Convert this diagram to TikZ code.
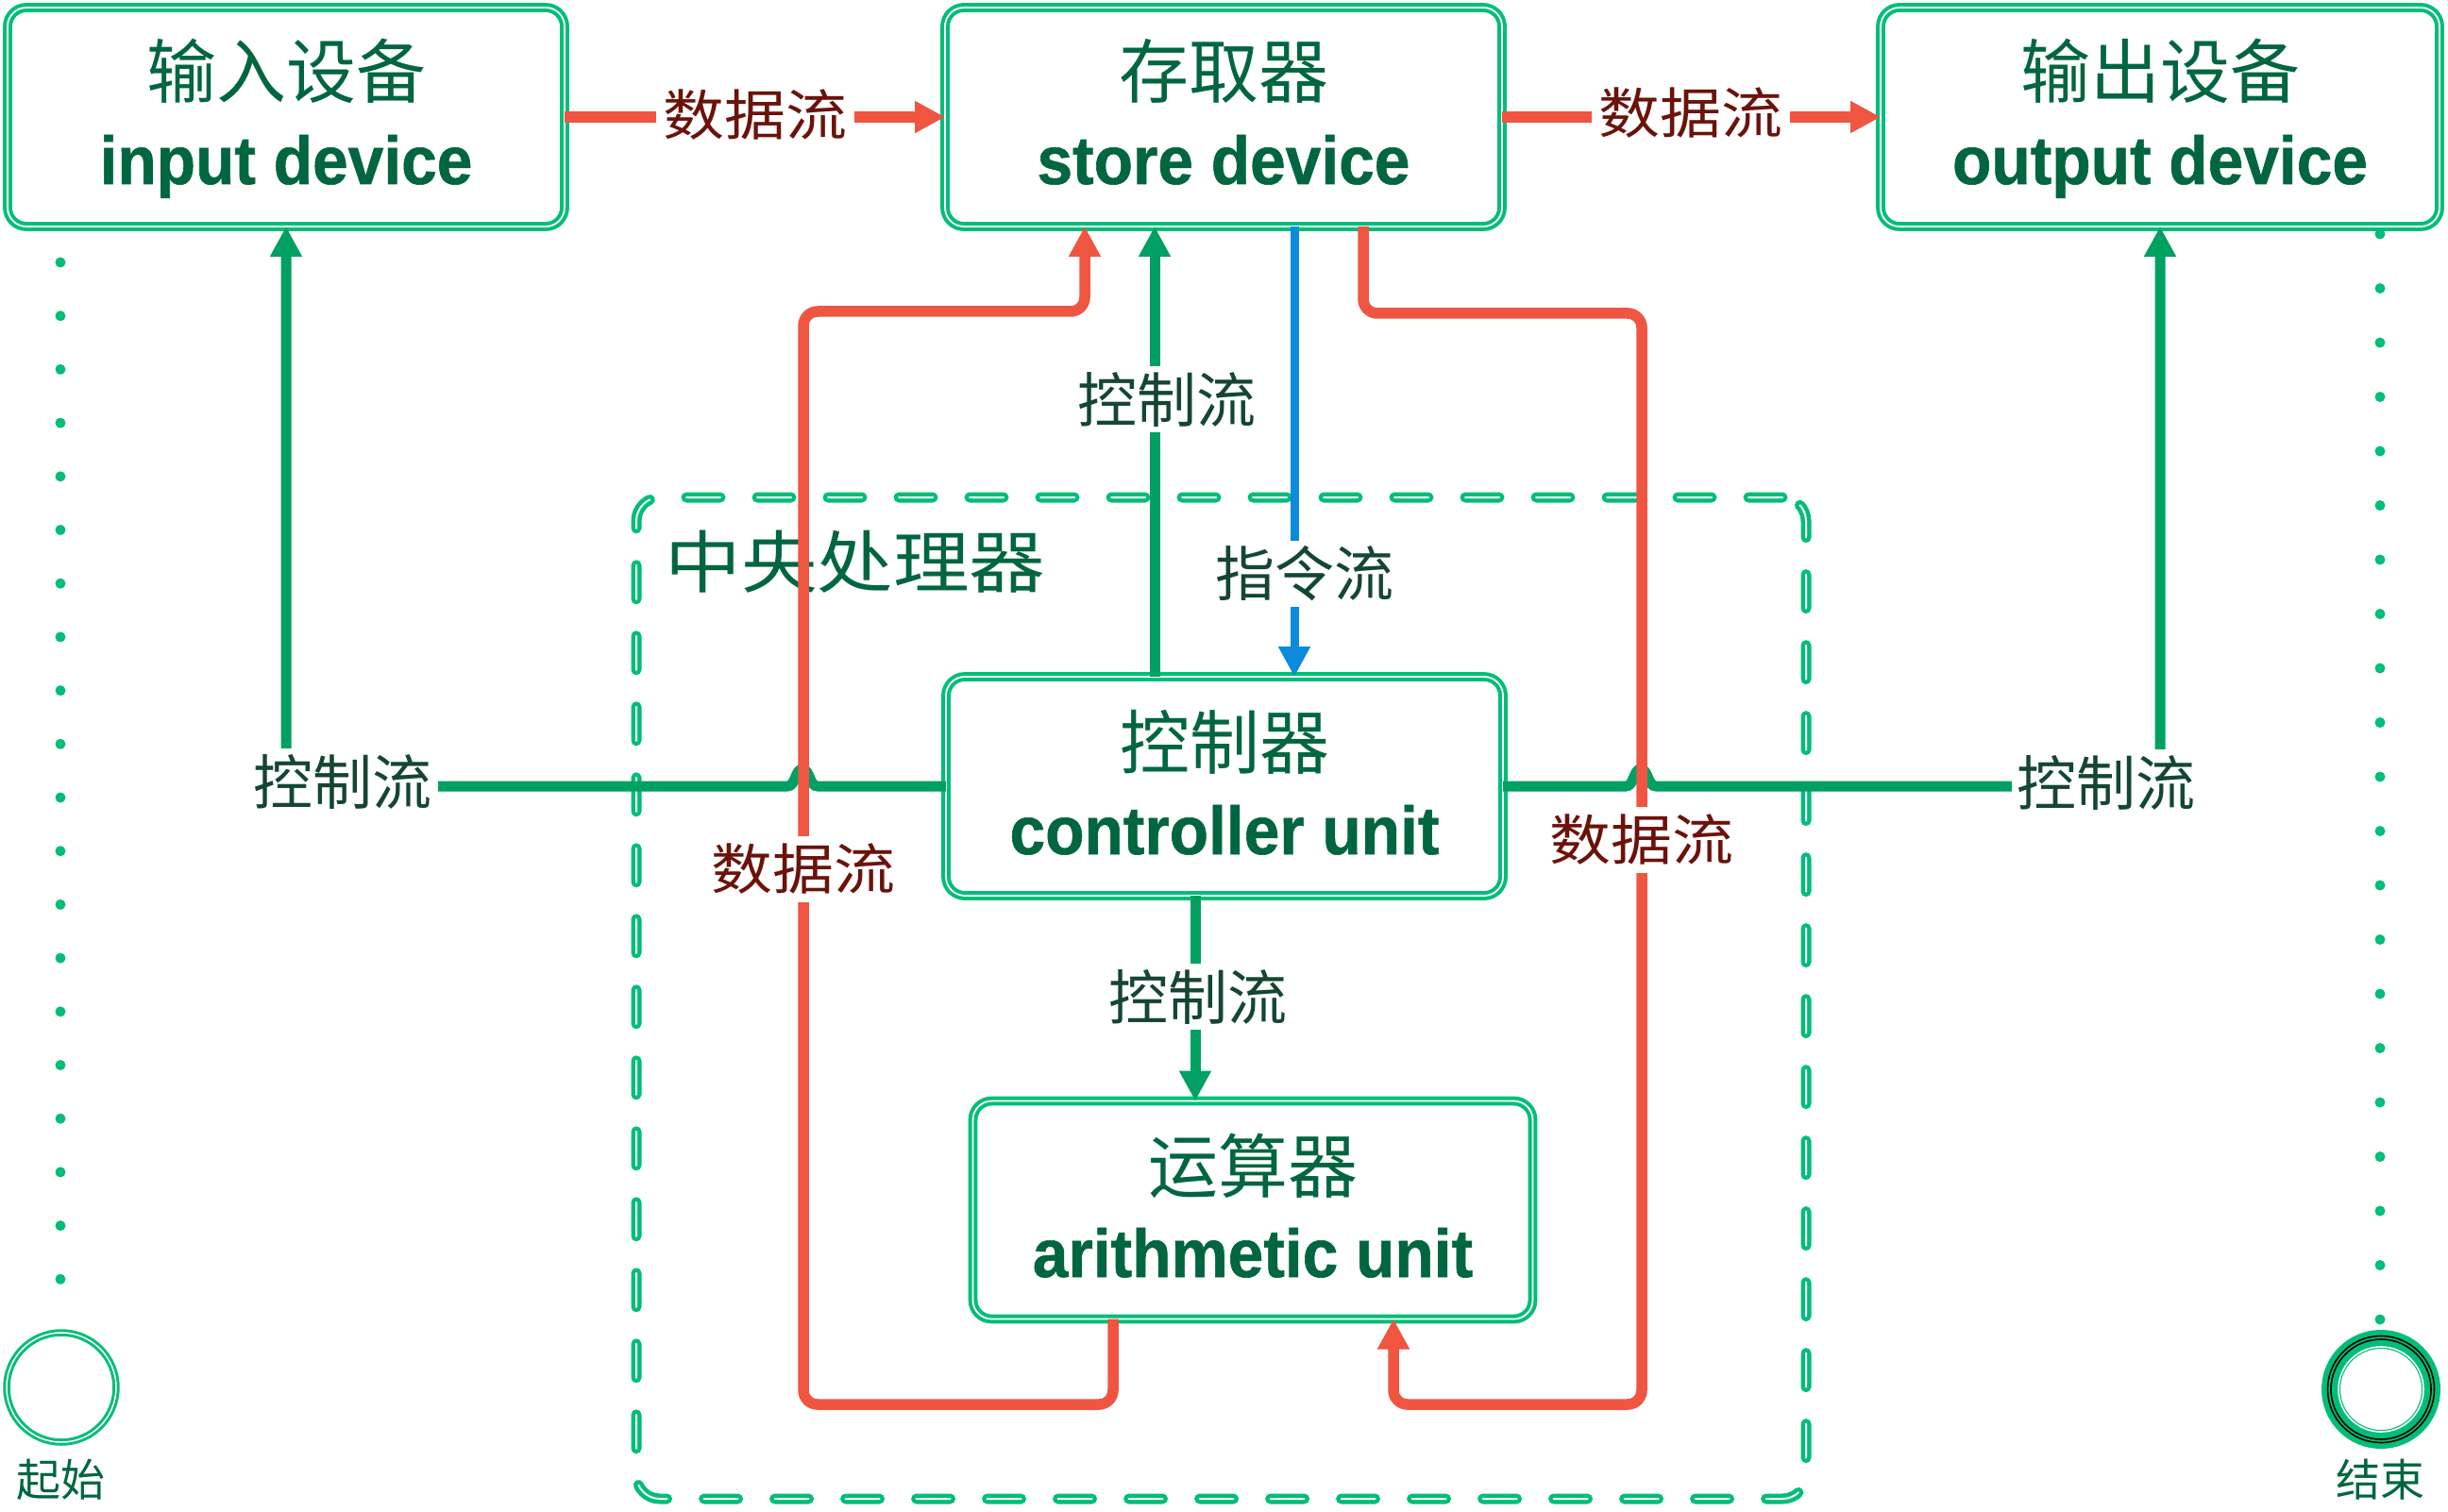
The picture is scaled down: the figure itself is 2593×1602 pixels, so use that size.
\documentclass[tikz,border=0pt]{standalone}
\usepackage{fontspec}
\setmainfont{Liberation Sans}[BoldFeatures={FakeStretch=0.94,FakeBold=0.8}]
\newfontfamily\cjk{Noto Sans CJK SC}
\newfontfamily\cjkw[FakeStretch=1.12]{Noto Sans CJK SC}
\usetikzlibrary{arrows.meta}
\definecolor{boxgreen}{RGB}{0,190,120}
\definecolor{linegreen}{RGB}{0,160,98}
\definecolor{txtgreen}{RGB}{0,102,64}
\definecolor{lblgreen}{RGB}{20,70,50}
\definecolor{datared}{RGB}{239,85,65}
\definecolor{lblred}{RGB}{107,18,10}
\definecolor{instrblue}{RGB}{10,139,219}
\tikzset{
  unitbox/.style={draw=boxgreen, line width=4pt, double=white, double distance=1.8pt,
    rounded corners=20pt, minimum width=590pt, minimum height=232pt, inner sep=0pt, outer sep=0pt},
  cjktitle/.style={font=\cjk\fontsize{74}{80}\selectfont, text=txtgreen, anchor=base, inner sep=0pt},
  entitle/.style={font=\bfseries\fontsize{72}{80}\selectfont, text=txtgreen, anchor=base, inner sep=0pt},
  greenflow/.style={draw=linegreen, line width=11pt},
  redflow/.style={draw=datared, line width=11.5pt, rounded corners=15pt},
  blueflow/.style={draw=instrblue, line width=9pt},
  tipbig/.style={-{Triangle[width=32pt,length=32pt]}},
  ctrllabel/.style={font=\cjk\fontsize{63}{70}\selectfont, text=lblgreen, fill=white, inner sep=6pt},
  datalabel/.style={font=\cjkw\fontsize{58}{64}\selectfont, text=lblred, fill=white, inner sep=8pt},
  cpuframe/.style={draw=boxgreen, line width=4.5pt, double=white, double distance=2pt,
    dash pattern=on 36pt off 39pt, line cap=round, rounded corners=25pt,
    minimum width=1239pt, minimum height=1061pt, inner sep=0pt},
  dotline/.style={draw=boxgreen, line width=11pt, line cap=round},
}
\begin{document}
\begin{tikzpicture}[x=1pt,y=-1pt]
\useasboundingbox (0,0) rectangle (2593,1602);
\fill[white] (0,0) rectangle (2593,1602);

% CPU frame
\node[cpuframe] (cpu) at (1293.5,1057.5) {};
\node[font=\cjkw\fontsize{72}{80}\selectfont, text=txtgreen, inner sep=0pt] (cputitle) at (906,595) {中央处理器};

% unit boxes
\node[unitbox] (input) at (303,124) {};
\node[unitbox] (store) at (1296,124) {};
\node[unitbox, minimum width=592pt] (output) at (2288,124) {};
\node[unitbox] (ctrl) at (1297,833) {};
\node[unitbox, minimum width=593pt, minimum height=231pt] (arith) at (1327,1282) {};

\node[cjktitle] (inputcn) at ([yshift=20pt]input.center) {输入设备};
\node[entitle] (inputen) at ([yshift=-71pt]input.center) {input device};
\node[cjktitle] (storecn) at ([yshift=20pt]store.center) {存取器};
\node[entitle] (storeen) at ([yshift=-71pt]store.center) {store device};
\node[cjktitle] (outputcn) at ([yshift=20pt]output.center) {输出设备};
\node[entitle] (outputen) at ([yshift=-71pt]output.center) {output device};
\node[cjktitle] (ctrlcn) at ([yshift=19pt]ctrl.center) {控制器};
\node[entitle] (ctrlen) at ([yshift=-72pt]ctrl.center) {controller unit};
\node[cjktitle] (arithcn) at ([yshift=19pt]arith.center) {运算器};
\node[entitle] (arithen) at ([yshift=-71pt]arith.center) {arithmetic unit};

% x positions of connectors
\coordinate (xg) at (1223,0);
\coordinate (xb) at (1371,0);
\coordinate (xa) at (1266,0);
\coordinate (xr1) at (1179,0);
\coordinate (xr2) at (1149,0);
\coordinate (xr3) at (1444,0);
\coordinate (xr4) at (1476,0);

% green control flows
\draw[greenflow, tipbig] (ctrl.west) -- (866,833) .. controls (857,833) and (858,815) .. (850,815)
  .. controls (842,815) and (843,833) .. (834,833) -- (303,833) -- (input.south);
\draw[greenflow, tipbig] (ctrl.east) -- (1722,833) .. controls (1731,833) and (1730,815) .. (1738,815)
  .. controls (1746,815) and (1745,833) .. (1754,833) -- (2288,833) -- (output.south);
\draw[greenflow, tipbig] (ctrl.north -| xg) -- (store.south -| xg);
\draw[greenflow, tipbig] (ctrl.south -| xa) -- (arith.north -| xa);

% red data flows
\draw[redflow, tipbig] (input.east) -- (store.west);
\draw[redflow, tipbig] (store.east) -- (output.west);
\draw[redflow, tipbig] (arith.south -| xr1) -- (1179,1488) -- (851,1488) -- (851,330) -- (1149,330) -- (store.south -| xr2);
\draw[redflow, tipbig] (store.south -| xr3) -- (1444,332) -- (1739,332) -- (1739,1488) -- (1476,1488) -- (arith.south -| xr4);

% blue instruction flow
\draw[blueflow, tipbig] (store.south -| xb) -- (ctrl.north -| xb);

% labels
\node[datalabel] (d1) at (800,122) {数据流};
\node[datalabel] (d2) at (1791,120) {数据流};
\node[datalabel] (d3) at (851,921) {数据流};
\node[datalabel] (d4) at (1739,890) {数据流};
\node[ctrllabel] (c1) at (363,828) {控制流};
\node[ctrllabel] (c2) at (2231,829) {控制流};
\node[ctrllabel] (c3) at (1236,423) {控制流};
\node[ctrllabel] (c4) at (1269,1056) {控制流};
\node[ctrllabel] (i1) at (1382,608) {指令流};

% start / end
\node[circle, draw=boxgreen, line width=3pt, double=white, double distance=1.5pt,
  minimum size=116pt, inner sep=0pt] (start) at (65,1470) {};
\node[font=\cjk\fontsize{47}{50}\selectfont, text=txtgreen, inner sep=0pt] (startlbl) at (64,1568) {起始};
\node[circle, draw=boxgreen, line width=20pt, minimum size=106pt, inner sep=0pt] (end) at (2522,1472) {};
\draw[black, line width=1.6pt] (end.center) circle (56.5pt);
\draw[black, line width=1.6pt] (end.center) circle (53pt);
\draw[white, line width=1.6pt] (end.center) circle (45pt);
\node[font=\cjk\fontsize{47}{50}\selectfont, text=txtgreen, inner sep=0pt] (endlbl) at (2521,1568) {结束};

% dotted lines
\coordinate (ls) at (64,278);
\coordinate (le) at (64,1356);
\coordinate (rs) at (2521,248);
\coordinate (re) at (2521,1399);
\draw[dotline, dash pattern=on 0pt off 56.7pt] (ls) -- (le);
\draw[dotline, dash pattern=on 0pt off 57.5pt] (rs) -- (re);
\end{tikzpicture}
\end{document}
